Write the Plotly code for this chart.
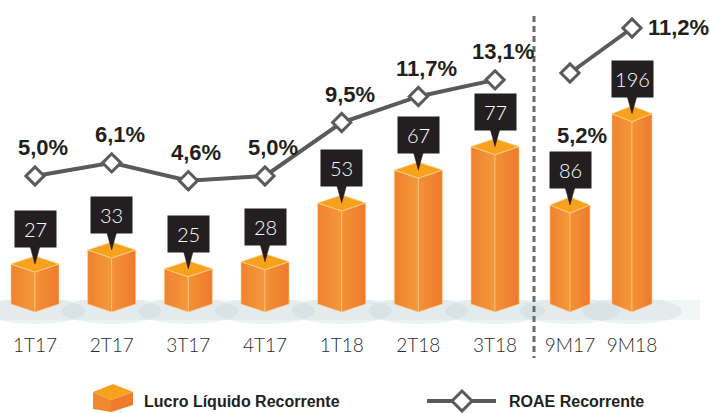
import plotly.graph_objects as go

# ---------------- data ----------------
q_labels = ["1T17", "2T17", "3T17", "4T17", "1T18", "2T18", "3T18"]
q_lucro = [27, 33, 25, 28, 53, 67, 77]
q_roae = [5.0, 6.1, 4.6, 5.0, 9.5, 11.7, 13.1]

ytd_labels = ["9M17", "9M18"]
ytd_lucro = [86, 196]
ytd_roae = [5.2, 11.2]

legend_bar = "Lucro Líquido Recorrente"
legend_line = "ROAE Recorrente"

# ---------------- layout geometry ----------------
W, H = 710, 413
FLOOR_PX = 312


def xrange_px(ref_val, ref_px, s):
    return [ref_val - ref_px / s, ref_val + (W - ref_px) / s]


def yrange_px(ref_val, ref_px, s):
    return [ref_val - (H - ref_px) / s, ref_val + ref_px / s]


XL = xrange_px(0, 35, 76.67)
XR = xrange_px(0, 570, 62)
YBL = yrange_px(10, FLOOR_PX, 2.35)
YLL = yrange_px(7.86, 142, 11.86)
YBR = yrange_px(86, 213, 0.83)
YLR = yrange_px(5.2, 73, 7.5)

ORANGE_TOP = "#F7A11C"
GRAY = "#5A5A5A"
BLACK = "#231F20"
TXT = "#231F20"
BOLD = "Liberation Sans, Arial, sans-serif"
LIGHT = "Lato, Roboto, sans-serif"

fig = go.Figure()
shapes = []
annotations = []


def px_to_paper_x(p):
    return p / W


def px_to_paper_y(p):
    return 1 - p / H


def add_boxes(labels, values, xref, yref, xr, yr, half_w_px):
    ux = (xr[1] - xr[0]) / W
    uy = (yr[1] - yr[0]) / H
    hw = half_w_px * ux
    dy = 8 * uy
    vf = yr[1] - FLOOR_PX * uy
    xa = "x" if xref == "x" else "x2"
    ya = yref
    for i, v in enumerate(values):
        xc = i
        # floor shadow
        shapes.append(dict(type="circle", xref=xref, yref="paper", layer="below",
                           x0=xc - 50 * ux, x1=xc + 50 * ux,
                           y0=px_to_paper_y(324), y1=px_to_paper_y(298),
                           fillcolor="rgba(190,210,212,0.28)", line=dict(width=0)))
        left = dict(x=[xc - hw, xc, xc, xc - hw, xc - hw],
                    y=[v + dy, v, vf, vf + dy, v + dy],
                    grad=[[0, "#EF8230"], [1, "#F49A3B"]])
        right = dict(x=[xc, xc + hw, xc + hw, xc, xc],
                     y=[v, v + dy, vf + dy, vf, v],
                     grad=[[0, "#F39236"], [1, "#EE7A2E"]])
        for face in (left, right):
            fig.add_trace(go.Scatter(
                x=face["x"], y=face["y"], mode="lines", fill="toself",
                fillgradient=dict(type="horizontal", colorscale=face["grad"]),
                line=dict(color="rgba(255,205,140,0.8)", width=0.8),
                xaxis=xa, yaxis=ya, hoverinfo="skip", showlegend=False))
        fig.add_trace(go.Scatter(
            x=[xc - hw, xc, xc + hw, xc, xc - hw],
            y=[v + dy, v, v + dy, v + 2 * dy, v + dy],
            mode="lines", fill="toself", fillcolor=ORANGE_TOP,
            line=dict(color="rgba(255,215,150,0.9)", width=0.8),
            xaxis=xa, yaxis=ya, hoverinfo="skip", showlegend=False))
        # callout pointer
        fig.add_trace(go.Scatter(
            x=[xc - 5 * ux, xc + 5 * ux, xc, xc - 5 * ux],
            y=[v + 26 * uy, v + 26 * uy, v + 8 * uy, v + 26 * uy],
            mode="lines", fill="toself", fillcolor=BLACK, line=dict(color=BLACK, width=0.5),
            xaxis=xa, yaxis=ya, hoverinfo="skip", showlegend=False))
        annotations.append(dict(x=xc, y=v, xref=xref, yref=yref, yshift=43,
                                text=str(v), showarrow=False, bgcolor=BLACK,
                                width=41, height=36, borderpad=0,
                                font=dict(family=LIGHT, size=20, color="white", weight=300)))


def add_line(values, xref, yref, label_offsets):
    xa = "x" if xref == "x" else "x2"
    fig.add_trace(go.Scatter(
        x=list(range(len(values))), y=values, mode="lines+markers",
        line=dict(color=GRAY, width=4),
        marker=dict(symbol="diamond", size=14, color="white",
                    line=dict(color=GRAY, width=3)),
        xaxis=xa, yaxis=yref, hoverinfo="skip", showlegend=False))
    for i, v in enumerate(values):
        xs, ys, anchor = label_offsets[i]
        annotations.append(dict(x=i, y=v, xref=xref, yref=yref, xshift=xs, yshift=ys,
                                xanchor=anchor, text=f"{v:.1f}%".replace(".", ","),
                                showarrow=False,
                                font=dict(family=BOLD, size=22, color=TXT, weight="bold")))


# floor band
shapes.append(dict(type="rect", xref="paper", yref="paper", layer="below",
                   x0=0, x1=px_to_paper_x(700), y0=px_to_paper_y(320), y1=px_to_paper_y(300),
                   fillcolor="rgba(220,232,233,0.40)", line=dict(width=0)))

add_boxes(q_labels, q_lucro, "x", "y", XL, YBL, 24)
add_boxes(ytd_labels, ytd_lucro, "x2", "y3", XR, YBR, 20)
add_line(q_roae, "x", "y2", [(8, 28, "center")] * len(q_roae))
add_line(ytd_roae, "x2", "y4", [(12, -62, "center"), (14, 1, "left")])

# separator
shapes.append(dict(type="line", xref="paper", yref="paper",
                   x0=px_to_paper_x(534), x1=px_to_paper_x(534),
                   y0=px_to_paper_y(16), y1=px_to_paper_y(358),
                   line=dict(color="#6A6A6A", width=3, dash="6px,4px")))


# legend: cube icon
def poly(pts):
    return "M " + " L ".join(f"{px_to_paper_x(a)},{px_to_paper_y(b)}" for a, b in pts) + " Z"


shapes.append(dict(type="path", xref="paper", yref="paper",
                   path=poly([(93, 392), (111, 400), (111, 412), (93, 409)]),
                   fillcolor="#F08A32", line=dict(width=0)))
shapes.append(dict(type="path", xref="paper", yref="paper",
                   path=poly([(111, 400), (133, 392), (133, 405), (111, 412)]),
                   fillcolor="#EE7B2E", line=dict(width=0)))
shapes.append(dict(type="path", xref="paper", yref="paper",
                   path=poly([(93, 392), (113, 384), (133, 392), (111, 400)]),
                   fillcolor=ORANGE_TOP, line=dict(width=0)))
# legend: line icon
shapes.append(dict(type="line", xref="paper", yref="paper",
                   x0=px_to_paper_x(427), x1=px_to_paper_x(496),
                   y0=px_to_paper_y(401), y1=px_to_paper_y(401),
                   line=dict(color=GRAY, width=4)))
shapes.append(dict(type="path", xref="paper", yref="paper",
                   path=poly([(462, 391), (472, 401), (462, 411), (452, 401)]),
                   fillcolor="white", line=dict(color=GRAY, width=3)))
annotations.append(dict(x=px_to_paper_x(142), y=px_to_paper_y(401), xref="paper", yref="paper",
                        xanchor="left", yanchor="middle", text=legend_bar, showarrow=False,
                        font=dict(family=BOLD, size=16, color=TXT, weight="bold")))
annotations.append(dict(x=px_to_paper_x(507), y=px_to_paper_y(401), xref="paper", yref="paper",
                        xanchor="left", yanchor="middle", text=legend_line, showarrow=False,
                        font=dict(family=BOLD, size=16, color=TXT, weight="bold")))

tickfont = dict(family=LIGHT, size=19, color="#2B2B2B", weight=300)
axis_common = dict(showgrid=False, zeroline=False, showline=False, ticks="",
                   tickfont=tickfont, anchor="free", position=px_to_paper_y(332), domain=[0, 1])
hidden = dict(visible=False, domain=[0, 1])

fig.update_layout(
    width=W, height=H, autosize=False,
    margin=dict(l=0, r=0, t=0, b=0, pad=0),
    paper_bgcolor="white", plot_bgcolor="rgba(0,0,0,0)",
    showlegend=False,
    xaxis=dict(range=XL, tickvals=list(range(len(q_labels))), ticktext=q_labels, **axis_common),
    xaxis2=dict(range=XR, tickvals=list(range(len(ytd_labels))), ticktext=ytd_labels,
                overlaying="x", **axis_common),
    yaxis=dict(range=YBL, **hidden),
    yaxis2=dict(range=YLL, overlaying="y", **hidden),
    yaxis3=dict(range=YBR, overlaying="y", **hidden),
    yaxis4=dict(range=YLR, overlaying="y", **hidden),
    shapes=shapes,
    annotations=annotations,
)

fig.write_html("out.html", config={"displayModeBar": False},
               post_script="document.body.style.margin='0';document.body.style.overflow='hidden';")
